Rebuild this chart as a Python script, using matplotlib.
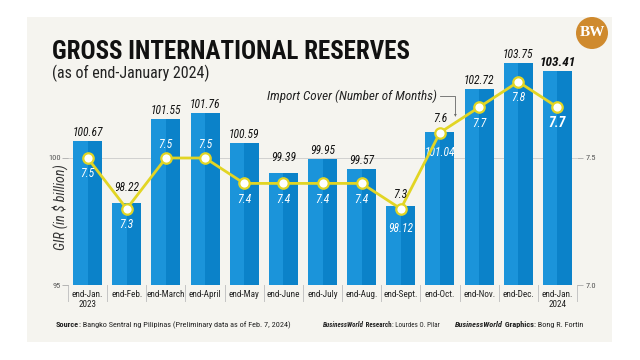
import matplotlib
matplotlib.use('Agg')
import matplotlib.pyplot as plt
from matplotlib.patches import Rectangle, Circle
from matplotlib import font_manager as fm
import matplotlib.transforms as mtransforms
import numpy as np

# ---------------- data ----------------
categories = ['end-Jan.\n2023', 'end-Feb.', 'end-March', 'end-April', 'end-May',
              'end-June', 'end-July', 'end-Aug.', 'end-Sept.', 'end-Oct.',
              'end-Nov.', 'end-Dec.', 'end-Jan.\n2024']
gir = [100.67, 98.22, 101.55, 101.76, 100.59, 99.39, 99.95, 99.57, 98.12,
       101.04, 102.72, 103.75, 103.41]
import_cover = [7.5, 7.3, 7.5, 7.5, 7.4, 7.4, 7.4, 7.4, 7.3, 7.6, 7.7, 7.8, 7.7]
gir_label_pos = ['above'] * 8 + ['inside', 'inside'] + ['above'] * 3
cover_label_pos = ['below', 'below', 'above_in', 'above_in', 'below', 'below',
                   'below', 'below', 'above_out', 'above_out', 'below', 'below', 'below']
left_ticks = [95, 100]
right_ticks = [7.0, 7.5]
right_tick_labels = ['7.0', '7.5']

# pick a narrow sans family if one is installed
names = {f.name for f in fm.fontManager.ttflist}
cands = ['Roboto Condensed', 'Liberation Sans Narrow', 'Open Sans Condensed',
         'Noto Sans Condensed', 'Roboto', 'Liberation Sans']
FONT = next((c for c in cands if c in names), 'DejaVu Sans')
plt.rcParams['font.family'] = [FONT, 'DejaVu Sans']

W, H = 640, 360
fig = plt.figure(figsize=(6.4, 3.6), dpi=100, facecolor='white')

def fx(px):
    return px / W

def fy(py):
    return 1 - py / H

# panel background
fig.patches.append(Rectangle((fx(27), fy(342)), fx(612) - fx(27), fy(17) - fy(342),
                             transform=fig.transFigure, facecolor='#f5f4ef',
                             edgecolor='none', zorder=0))

# axes
ax = fig.add_axes([fx(68), fy(285), (577 - 68) / W, 230 / H])
ax.set_facecolor('none')
ax.set_zorder(1)
x = np.arange(len(categories))
ax.set_xlim(-0.5, len(categories) - 0.5)
ax.set_ylim(95, 95 + 230 / 25.4)

bw = 0.74
ax.bar(x, gir, width=bw, color='#1b94da', zorder=2)
ax.bar(x + bw * 0.25, gir, width=bw * 0.5, color='#0b82c9', zorder=2)

for s in ax.spines.values():
    s.set_visible(False)
ax.set_yticks(left_ticks)
ax.set_yticklabels([str(t) for t in left_ticks], fontsize=6, color='#555555')
ax.tick_params(axis='y', length=4, width=0.6, color='#aaaaaa', pad=1)
ax.set_xticks(x)
ax.set_xticklabels(categories, fontsize=6.6, color='#222222', linespacing=1.2)
ax.tick_params(axis='x', length=0, pad=3.5)
ax.axhline(100, color='#d0d0d0', lw=0.7, zorder=1)
ax.axhline(95, color='#c0c0c0', lw=0.7, zorder=1)

# separators below axis
trans = mtransforms.blended_transform_factory(ax.transData, ax.transAxes)
for xi in np.arange(-0.5, len(categories), 1.0):
    ax.plot([xi, xi], [0, -0.07], transform=trans, color='#c4c4c4', lw=0.7,
            clip_on=False, zorder=1)

# import cover line (secondary axis)
ax2 = ax.twinx()
ax2.set_zorder(2)
ax2.set_ylim(7.0, 7.0 + 230 / 254)
for s in ax2.spines.values():
    s.set_visible(False)
ax2.set_yticks(right_ticks)
ax2.set_yticklabels(right_tick_labels, fontsize=6, color='#555555')
ax2.tick_params(axis='y', length=4, width=0.6, color='#aaaaaa', pad=2)
ax2.plot(x, import_cover, color='#e2d524', lw=2.0, zorder=3, marker='o',
         markersize=7.5, markerfacecolor='white', markeredgecolor='#e2d524',
         markeredgewidth=1.6)

# bar labels (moved clear of the line markers when they sit near the bar top)
to_ax = ax.transData.inverted()
for i, (v, pos) in enumerate(zip(gir, gir_label_pos)):
    last = i == len(gir) - 1
    marker_y = to_ax.transform(ax2.transData.transform((i, import_cover[i])))[1]
    if pos == 'above':
        anchor, off = v, 1.5
        if abs(marker_y - v) < 0.45:
            anchor, off = max(v, marker_y), 6.5
        ax.annotate(f'{v:.2f}', (i, anchor), xytext=(0, off), textcoords='offset points',
                    ha='center', va='bottom', fontsize=9.5 if last else 8.3,
                    style='italic', fontweight='bold' if last else 'normal',
                    color='#111111', zorder=5, annotation_clip=False)
    else:
        anchor, off = v, -11
        if abs(marker_y - v) < 0.45:
            anchor, off = min(v, marker_y), -14
        ax.annotate(f'{v:.2f}', (i, anchor), xytext=(0, off), textcoords='offset points',
                    ha='center', va='center', fontsize=8.3, style='italic',
                    color='white', zorder=5)

for i, (v, pos) in enumerate(zip(import_cover, cover_label_pos)):
    last = i == len(import_cover) - 1
    if pos == 'below':
        ax2.annotate(f'{v:.1f}', (i, v), xytext=(0, -11.5), textcoords='offset points',
                     ha='center', va='center', fontsize=10 if last else 8.5,
                     style='italic', fontweight='bold' if last else 'normal',
                     color='white', zorder=5)
    elif pos == 'above_in':
        ax2.annotate(f'{v:.1f}', (i, v), xytext=(0, 9.5), textcoords='offset points',
                     ha='center', va='center', fontsize=8.5, style='italic',
                     color='white', zorder=5)
    else:
        ax2.annotate(f'{v:.1f}', (i, v), xytext=(0, 10.5), textcoords='offset points',
                     ha='center', va='center', fontsize=8.5, style='italic',
                     color='#111111', zorder=5)

# annotation for import cover
note = fig.text(fx(437), fy(96), 'Import Cover (Number of Months)', ha='right',
                va='center', fontsize=7.5, style='italic', color='#222222')
fig.lines.append(plt.Line2D([fx(440), fx(455), fx(455)], [fy(96), fy(96), fy(113)],
                            transform=fig.transFigure, color='#666666', lw=0.6))
fig.text(fx(455), fy(115), '▾', ha='center', va='center', fontsize=4,
         color='#666666', family='DejaVu Sans')

# y label
ylab = fig.text(fx(60), fy(207), 'GIR (in $ billion)', rotation=90, ha='center',
                va='center', fontsize=8, style='italic', color='#333333')

# titles
title = fig.text(fx(52), fy(59), 'GROSS INTERNATIONAL RESERVES', ha='left',
                 va='baseline', fontsize=20, fontweight='bold', color='#111111')
sub = fig.text(fx(52), fy(73), '(as of end-January 2024)', ha='left', va='center',
               fontsize=11, color='#222222')

# logo
fig.patches.append(Circle((592 / 100, (H - 33) / 100), 0.16,
                          transform=fig.dpi_scale_trans,
                          facecolor='#cf8a2e', edgecolor='none', zorder=1))
fig.text(fx(592), fy(33), 'BW', ha='center', va='center', fontsize=11,
         fontweight='bold', color='white', family=['Liberation Serif', 'DejaVu Serif'])

# footer
footer_groups = [
    (56, 293, [('Source', dict(fontweight='bold')),
               (': Bangko Sentral ng Pilipinas (Preliminary data as of Feb. 7, 2024)', {})]),
    (323, 439, [('BusinessWorld', dict(fontweight='bold', style='italic')),
                (' Research', dict(fontweight='bold')),
                (': Lourdes O. Pilar', {})]),
    (455, 585, [('BusinessWorld', dict(fontweight='bold', style='italic')),
                (' Graphics', dict(fontweight='bold')),
                (': Bong R. Fortin', {})]),
]
groups = []
for x0, x1, parts in footer_groups:
    texts = [fig.text(fx(x0), fy(327), txt, ha='left', va='baseline', fontsize=7,
                      color='#222222', **kw) for txt, kw in parts]
    groups.append(texts)

fig.canvas.draw()
r = fig.canvas.get_renderer()

def fit(t, target, vertical=False):
    bb = t.get_window_extent(r)
    w = bb.height if vertical else bb.width
    t.set_fontsize(t.get_fontsize() * target / w)

fit(title, 358)
fit(sub, 158)
fit(note, 170)
fit(ylab, 86, vertical=True)

# size and place footer parts
for (x0, x1, _), texts in zip(footer_groups, groups):
    total = sum(t.get_window_extent(r).width for t in texts)
    scale = (x1 - x0) / total
    for t in texts:
        t.set_fontsize(t.get_fontsize() * scale)
fig.canvas.draw()
for (x0, x1, _), texts in zip(footer_groups, groups):
    xpos = x0
    for t in texts:
        t.set_position((fx(xpos), fy(327)))
        xpos += t.get_window_extent(r).width

fig.savefig('out.png', dpi=100, facecolor='white')
